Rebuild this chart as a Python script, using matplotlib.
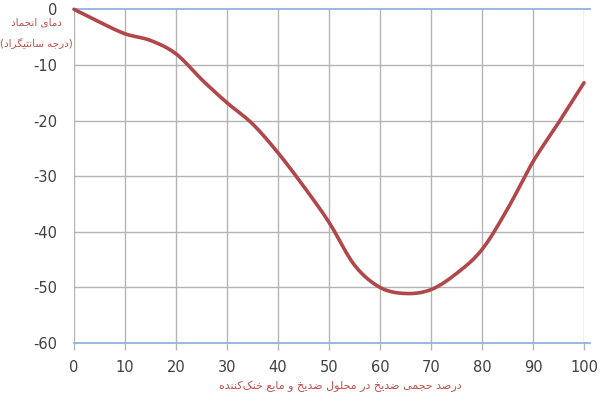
import numpy as np
import matplotlib
matplotlib.use("Agg")
import matplotlib.pyplot as plt

# ---- data ----
concentration = [0, 5, 10, 15, 20, 25, 30, 35, 40, 45, 50, 55, 60, 65, 70, 75, 80, 85, 90, 95, 100]
freezing_temp = [0, -2.3, -4.4, -5.6, -8.0, -12.6, -16.8, -20.6, -25.8, -31.8, -38.3, -46.0,
                 -50.0, -51.1, -50.4, -47.5, -43.2, -35.9, -27.4, -20.4, -13.2]
x_ticks = [0, 10, 20, 30, 40, 50, 60, 70, 80, 90, 100]
y_ticks = [0, -10, -20, -30, -40, -50, -60]
ylabel_line1 = "دمای انجماد"
ylabel_line2 = "(درجه سانتیگراد)"
xlabel_text = "درصد حجمی ضدیخ در محلول ضدیخ و مایع خنک\u200cکننده"

# ---- minimal Persian shaping (presentation forms + visual order) ----
FORMS = {
    '\u0627': (0xFE8D, 0xFE8E, None, None),
    '\u062A': (0xFE95, 0xFE96, 0xFE97, 0xFE98),
    '\u062C': (0xFE9D, 0xFE9E, 0xFE9F, 0xFEA0),
    '\u062D': (0xFEA1, 0xFEA2, 0xFEA3, 0xFEA4),
    '\u062E': (0xFEA5, 0xFEA6, 0xFEA7, 0xFEA8),
    '\u062F': (0xFEA9, 0xFEAA, None, None),
    '\u0631': (0xFEAD, 0xFEAE, None, None),
    '\u0633': (0xFEB1, 0xFEB2, 0xFEB3, 0xFEB4),
    '\u0635': (0xFEB9, 0xFEBA, 0xFEBB, 0xFEBC),
    '\u0636': (0xFEBD, 0xFEBE, 0xFEBF, 0xFEC0),
    '\u0639': (0xFEC9, 0xFECA, 0xFECB, 0xFECC),
    '\u0644': (0xFEDD, 0xFEDE, 0xFEDF, 0xFEE0),
    '\u0645': (0xFEE1, 0xFEE2, 0xFEE3, 0xFEE4),
    '\u0646': (0xFEE5, 0xFEE6, 0xFEE7, 0xFEE8),
    '\u0647': (0xFEE9, 0xFEEA, 0xFEEB, 0xFEEC),
    '\u0648': (0xFEED, 0xFEEE, None, None),
    '\u06CC': (0xFBFC, 0xFBFD, 0xFBFE, 0xFBFF),
    '\u06A9': (0xFB8E, 0xFB8F, 0xFB90, 0xFB91),
    '\u06AF': (0xFB92, 0xFB93, 0xFB94, 0xFB95),
}
MIRROR = {'(': ')', ')': '('}


def shape(text):
    out = []
    n = len(text)
    for i, c in enumerate(text):
        if c == '\u200c':
            continue
        if c not in FORMS:
            out.append(c)
            continue
        prev = text[i - 1] if i > 0 else None
        nxt = text[i + 1] if i + 1 < n else None
        cp = prev in FORMS and FORMS[prev][2] is not None
        cn = FORMS[c][2] is not None and nxt in FORMS
        iso, fin, ini, med = FORMS[c]
        if cp and cn:
            g = med
        elif cp:
            g = fin
        elif cn:
            g = ini
        else:
            g = iso
        out.append(chr(g))
    vis = ''.join(out)[::-1]
    return ''.join(MIRROR.get(ch, ch) for ch in vis)


def smooth(x, y, per=12):
    x = np.asarray(x, float); y = np.asarray(y, float)
    px = np.concatenate([[2 * x[0] - x[1]], x, [2 * x[-1] - x[-2]]])
    py = np.concatenate([[2 * y[0] - y[1]], y, [2 * y[-1] - y[-2]]])
    xs, ys = [], []
    t = np.linspace(0, 1, per, endpoint=False)
    for i in range(1, len(px) - 2):
        for arr, src in ((xs, px), (ys, py)):
            p0, p1, p2, p3 = src[i - 1], src[i], src[i + 1], src[i + 2]
            arr.extend(0.5 * ((2 * p1) + (-p0 + p2) * t + (2 * p0 - 5 * p1 + 4 * p2 - p3) * t ** 2
                              + (-p0 + 3 * p1 - 3 * p2 + p3) * t ** 3))
    xs.append(x[-1]); ys.append(y[-1])
    return np.array(xs), np.array(ys)


plt.rcParams['font.family'] = ['DejaVu Sans']

fig = plt.figure(figsize=(6.0, 4.01), dpi=100)
ax = fig.add_axes([74 / 600, 1 - 343 / 401, 510 / 600, (343 - 9.3) / 401])

grid_col = '#b4b4b4'
blue_col = '#8fb4de'
red_line = '#b2474a'
red_text = '#c0504d'

ax.set_xlim(0, 100)
ax.set_ylim(-60, 0)
ax.set_xticks(x_ticks)
ax.set_yticks(y_ticks)
ax.set_xticklabels([str(v) for v in x_ticks])
ax.set_yticklabels([str(v) for v in y_ticks])

for s in ax.spines.values():
    s.set_visible(False)

for v in x_ticks:
    ax.axvline(v, color=grid_col, lw=1.0, zorder=1)
for v in y_ticks[1:-1]:
    ax.axhline(v, color=grid_col, lw=1.0, zorder=1)
ax.plot([0, 101.2], [0, 0], color=blue_col, lw=1.3, zorder=2, clip_on=False)
ax.plot([0, 101.2], [-60, -60], color=blue_col, lw=1.3, zorder=2, clip_on=False)

ax.tick_params(axis='x', length=5, width=1.0, color=grid_col, pad=7, labelsize=10.5, labelcolor='#404040')
ax.tick_params(axis='y', length=0, pad=12, labelsize=10.5, labelcolor='#404040')

sx, sy = smooth(concentration, freezing_temp)
ax.plot(sx, sy, color=red_line, lw=2.6, zorder=3, solid_capstyle='round', clip_on=False)

fig.text(36 / 600, 1 - 22 / 401, shape(ylabel_line1), ha='center', va='center',
         fontsize=7.5, color=red_text)
fig.text(36 / 600, 1 - 44 / 401, shape(ylabel_line2), ha='center', va='center',
         fontsize=7.5, color=red_text)
fig.text(340 / 600, 1 - 386 / 401, shape(xlabel_text), ha='center', va='center',
         fontsize=8, color=red_text)

fig.savefig('out.png', dpi=100, facecolor='white')
